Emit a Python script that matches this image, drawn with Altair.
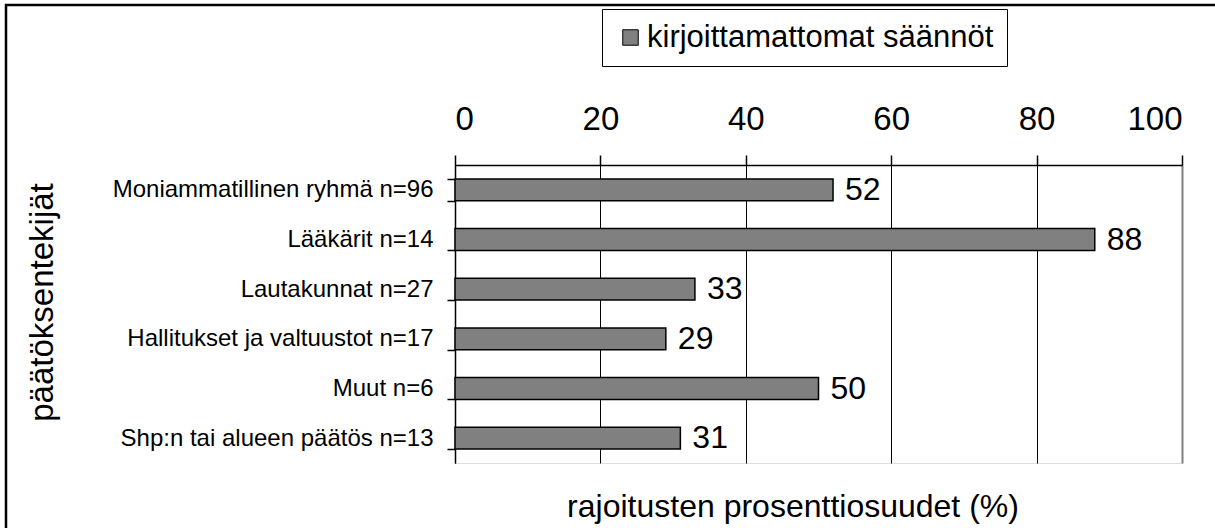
import altair as alt
import pandas as pd

categories = [
    "Moniammatillinen ryhmä n=96",
    "Lääkärit n=14",
    "Lautakunnat n=27",
    "Hallitukset ja valtuustot n=17",
    "Muut n=6",
    "Shp:n tai alueen päätös n=13",
]
values = [52, 88, 33, 29, 50, 31]
series_name = "kirjoittamattomat säännöt"
x_ticks = [0, 20, 40, 60, 80, 100]
x_title = "rajoitusten prosenttiosuudet (%)"
y_title = "päätöksentekijät"

df = pd.DataFrame({"cat": categories, "val": values, "series": [series_name] * len(values)})

FONT = "Liberation Sans"

x_enc = alt.X(
    "val:Q",
    scale=alt.Scale(domain=[0, 100], nice=False),
    axis=alt.Axis(
        orient="top",
        values=x_ticks,
        title=None,
        domainColor="black",
        domainWidth=1.5,
        tickColor="black",
        tickSize=10,
        tickWidth=1.5,
        labelFontSize=33,
        labelColor="black",
        labelFont=FONT,
        labelPadding=19,
        grid=True,
        gridColor={"condition": {"test": "datum.value === 100", "value": "#808080"}, "value": "black"},
        gridWidth={"condition": {"test": "datum.value === 100", "value": 2}, "value": 1},
        gridOpacity=1,
    ),
)

y_enc = alt.Y(
    "cat:N",
    sort=categories,
    scale=alt.Scale(paddingInner=0.56, paddingOuter=0.28),
    axis=alt.Axis(
        title=y_title,
        titleFontSize=33,
        titleFontWeight="normal",
        titleFont=FONT,
        titleColor="black",
        titleAngle=-90,
        titleX=-403,
        titleY=137,
        titleAlign="center",
        titleBaseline="alphabetic",
        domainColor="black",
        domainWidth=1.5,
        tickColor="black",
        tickSize=8,
        tickWidth=1.5,
        tickBand="extent",
        labelFontSize=24,
        labelFont=FONT,
        labelColor="black",
        labelPadding=14,
        labelLimit=500,
        grid=False,
    ),
)

bars = alt.Chart(df).mark_bar(stroke="black", strokeWidth=1.5).encode(
    x=x_enc,
    y=y_enc,
    color=alt.Color(
        "series:N",
        scale=alt.Scale(range=["#808080"]),
        legend=alt.Legend(
            title=None,
            orient="none",
            legendX=147,
            legendY=-156,
            strokeColor="black",
            fillColor="white",
            padding=13,
            symbolType="square",
            symbolSize=240,
            symbolStrokeColor="black",
            symbolStrokeWidth=1,
            symbolFillColor="#808080",
            labelFontSize=31,
            labelFont=FONT,
            labelColor="black",
            labelLimit=600,
            labelOffset=1,
            symbolOffset=0,
        ),
    ),
)

labels = alt.Chart(df).mark_text(
    align="left", baseline="middle", dx=12, fontSize=32, font=FONT, color="black"
).encode(
    x="val:Q",
    y=alt.Y("cat:N", sort=categories),
    text="val:Q",
)

one_df = pd.DataFrame({"t": [x_title]})
frame = alt.Chart(one_df).mark_rect(
    fill=None, stroke="black", strokeWidth=2.5, clip=False
).encode(
    x=alt.value(-449),
    x2=alt.value(1400),
    y=alt.value(-160),
    y2=alt.value(800),
)

xtitle = alt.Chart(one_df).mark_text(
    align="center", baseline="alphabetic", fontSize=32, font=FONT, color="black", clip=False
).encode(
    x=alt.value(338),
    y=alt.value(352),
    text="t:N",
)

chart = alt.layer(frame, bars, labels, xtitle).properties(
    width=727,
    height=298,
    autosize=alt.AutoSizeParams(type="none"),
    padding={"left": 455, "top": 165, "right": 33, "bottom": 65},
).configure_view(
    stroke="#808080", strokeWidth=2
).configure(background="white")

chart.save("out.html", embed_options={"renderer": "svg", "actions": False})
